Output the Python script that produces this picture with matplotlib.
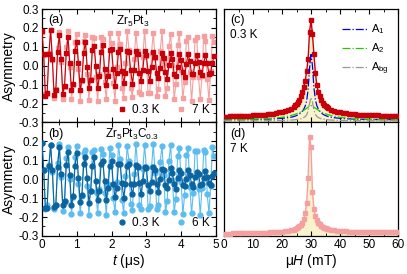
import matplotlib
matplotlib.use("Agg")
import matplotlib.pyplot as plt
from matplotlib.ticker import MultipleLocator

plt.rcParams['font.family'] = ['Liberation Sans', 'DejaVu Sans']
plt.rcParams['mathtext.fontset'] = 'custom'
plt.rcParams['mathtext.rm'] = 'Liberation Sans'
plt.rcParams['mathtext.it'] = 'Liberation Sans:italic'
plt.rcParams['axes.unicode_minus'] = False
plt.rcParams['font.size'] = 8

# time axis (us)
t = [0.00, 0.05, 0.10, 0.15, 0.20, 0.25, 0.30, 0.35, 0.40, 0.45,
     0.50, 0.55, 0.60, 0.65, 0.70, 0.75, 0.80, 0.85, 0.90, 0.95,
     1.00, 1.05, 1.10, 1.15, 1.20, 1.25, 1.30, 1.35, 1.40, 1.45,
     1.50, 1.55, 1.60, 1.65, 1.70, 1.75, 1.80, 1.85, 1.90, 1.95,
     2.00, 2.05, 2.10, 2.15, 2.20, 2.25, 2.30, 2.35, 2.40, 2.45,
     2.50, 2.55, 2.60, 2.65, 2.70, 2.75, 2.80, 2.85, 2.90, 2.95,
     3.00, 3.05, 3.10, 3.15, 3.20, 3.25, 3.30, 3.35, 3.40, 3.45,
     3.50, 3.55, 3.60, 3.65, 3.70, 3.75, 3.80, 3.85, 3.90, 3.95,
     4.00, 4.05, 4.10, 4.15, 4.20, 4.25, 4.30, 4.35, 4.40, 4.45,
     4.50, 4.55, 4.60, 4.65, 4.70, 4.75, 4.80, 4.85, 4.90, 4.95]

# Zr5Pt3, 0.3 K
a_low = [0.185, 0.062, -0.160, -0.143, 0.060, 0.190, 0.038, -0.157, -0.126, 0.075,
         0.162, 0.034, -0.147, -0.106, 0.067, 0.153, 0.012, -0.128, -0.099, 0.078,
         0.128, 0.013, -0.129, -0.075, 0.069, 0.127, -0.005, -0.115, -0.074, 0.081,
         0.107, -0.003, -0.120, -0.055, 0.072, 0.109, -0.019, -0.104, -0.056, 0.082,
         0.089, -0.015, -0.108, -0.037, 0.072, 0.090, -0.029, -0.093, -0.039, 0.080,
         0.072, -0.023, -0.096, -0.021, 0.078, 0.063, -0.036, -0.079, -0.024, 0.076,
         0.055, -0.028, -0.082, -0.008, 0.073, 0.048, -0.040, -0.067, -0.013, 0.069,
         0.040, -0.031, -0.070, 0.002, 0.066, 0.035, -0.042, -0.055, -0.004, 0.063,
         0.029, -0.032, -0.060, 0.009, 0.061, 0.023, -0.043, -0.045, 0.012, 0.058,
         0.019, -0.033, -0.051, 0.015, 0.056, 0.015, -0.043, -0.037, 0.017, 0.054]

# Zr5Pt3, 7 K
a_high = [0.178, 0.058, -0.150, -0.147, 0.068, 0.188, 0.030, -0.168, -0.125, 0.095,
          0.178, 0.020, -0.176, -0.110, 0.101, 0.182, -0.008, -0.174, -0.104, 0.126,
          0.166, -0.019, -0.186, -0.078, 0.131, 0.165, -0.046, -0.180, -0.070, 0.152,
          0.146, -0.057, -0.189, -0.042, 0.154, 0.142, -0.084, -0.178, -0.031, 0.172,
          0.120, -0.092, -0.184, -0.004, 0.171, 0.114, -0.116, -0.169, 0.016, 0.185,
          0.086, -0.119, -0.166, 0.034, 0.175, 0.078, -0.140, -0.148, 0.044, 0.186,
          0.052, -0.144, -0.146, 0.070, 0.175, 0.042, -0.162, -0.125, 0.079, 0.182,
          0.015, -0.162, -0.119, 0.104, 0.168, 0.005, -0.176, -0.096, 0.111, 0.171,
          -0.023, -0.173, -0.088, 0.133, 0.154, -0.033, -0.184, -0.062, 0.137, 0.153,
          -0.060, -0.176, -0.053, 0.156, 0.132, -0.069, -0.183, -0.026, 0.157, 0.128]

# Zr5Pt3C0.3, 0.3 K
b_low = [0.192, 0.051, -0.151, -0.153, 0.071, 0.180, 0.048, -0.148, -0.135, 0.066,
         0.172, 0.025, -0.139, -0.116, 0.077, 0.144, 0.022, -0.136, -0.090, 0.069,
         0.138, 0.004, -0.120, -0.085, 0.079, 0.118, 0.005, -0.124, -0.065, 0.071,
         0.115, -0.012, -0.109, -0.063, 0.080, 0.098, -0.009, -0.111, -0.045, 0.071,
         0.096, -0.023, -0.095, -0.045, 0.079, 0.078, -0.018, -0.098, -0.028, 0.068,
         0.078, -0.028, -0.080, -0.026, 0.075, 0.062, -0.022, -0.080, -0.011, 0.064,
         0.061, -0.031, -0.062, -0.014, 0.067, 0.046, -0.024, -0.066, 0.000, 0.056,
         0.046, -0.032, -0.048, -0.004, 0.059, 0.032, -0.024, -0.052, 0.008, 0.048,
         0.034, -0.030, -0.037, 0.002, 0.051, 0.021, -0.023, -0.040, 0.013, 0.040,
         0.025, -0.029, -0.026, 0.006, 0.044, 0.013, -0.020, -0.032, 0.016, 0.034]

# Zr5Pt3C0.3, 6 K
b_high = [0.190, 0.049, -0.158, -0.138, 0.076, 0.180, 0.040, -0.160, -0.135, 0.085,
          0.186, 0.012, -0.168, -0.120, 0.110, 0.172, 0.001, -0.182, -0.095, 0.117,
          0.174, -0.027, -0.178, -0.087, 0.139, 0.156, -0.037, -0.189, -0.060, 0.143,
          0.155, -0.066, -0.181, -0.050, 0.162, 0.133, -0.074, -0.187, -0.023, 0.163,
          0.129, -0.100, -0.175, -0.013, 0.179, 0.105, -0.108, -0.177, 0.017, 0.176,
          0.097, -0.131, -0.162, 0.026, 0.188, 0.071, -0.136, -0.160, 0.054, 0.181,
          0.062, -0.156, -0.141, 0.064, 0.188, 0.034, -0.158, -0.136, 0.090, 0.178,
          0.024, -0.175, -0.114, 0.098, 0.181, -0.004, -0.173, -0.106, 0.122, 0.167,
          -0.015, -0.186, -0.082, 0.128, 0.166, -0.042, -0.180, -0.072, 0.149, 0.148,
          -0.053, -0.189, -0.046, 0.152, 0.144, -0.079, -0.180, -0.035, 0.170, 0.123]

# field axis (mT)
B = [0, 1, 2, 3, 4, 5, 6, 7, 8, 9, 10, 11, 12, 13, 14, 15, 16, 17, 18, 19,
     20, 21, 22, 23, 24,
     24.5, 25, 25.5, 26, 26.5, 27, 27.5, 28, 28.5, 29, 29.5, 30, 30.5, 31,
     31.5, 32, 32.5, 33, 33.5, 34, 34.5, 35, 35.5,
     36, 37, 38, 39, 40, 41, 42, 43, 44, 45, 46, 47, 48, 49, 50, 51, 52, 53,
     54, 55, 56, 57, 58, 59, 60]

pb_low = [0.050, 0.052, 0.053, 0.054, 0.055, 0.056, 0.057, 0.058, 0.060, 0.061,
          0.063, 0.064, 0.066, 0.068, 0.070, 0.073, 0.076, 0.079, 0.083, 0.088,
          0.092, 0.099, 0.108, 0.122, 0.140,
          0.152, 0.165, 0.180, 0.200, 0.235, 0.270, 0.310, 0.370, 0.450, 0.560,
          0.800, 0.900, 0.780, 0.600, 0.440, 0.330, 0.270, 0.230, 0.200, 0.175,
          0.158, 0.145, 0.135,
          0.128, 0.113, 0.103, 0.095, 0.089, 0.084, 0.080, 0.077, 0.074, 0.072,
          0.070, 0.068, 0.067, 0.066, 0.065, 0.064, 0.063, 0.062, 0.061, 0.061,
          0.060, 0.060, 0.059, 0.059, 0.058]

pb_a1 = [0.024, 0.024, 0.024, 0.025, 0.025, 0.025, 0.025, 0.026, 0.026, 0.026,
         0.027, 0.027, 0.028, 0.028, 0.029, 0.030, 0.031, 0.032, 0.033, 0.035,
         0.037, 0.039, 0.042, 0.046, 0.052,
         0.056, 0.061, 0.067, 0.075, 0.085, 0.098, 0.117, 0.145, 0.190, 0.290,
         0.480, 0.600, 0.500, 0.310, 0.200, 0.150, 0.120, 0.100, 0.085, 0.075,
         0.067, 0.061, 0.056,
         0.052, 0.046, 0.042, 0.039, 0.037, 0.035, 0.033, 0.032, 0.031, 0.030,
         0.029, 0.028, 0.028, 0.027, 0.027, 0.026, 0.026, 0.026, 0.025, 0.025,
         0.025, 0.025, 0.024, 0.024, 0.024]

pb_a2 = [0.022, 0.022, 0.023, 0.023, 0.024, 0.024, 0.025, 0.025, 0.026, 0.027,
         0.028, 0.029, 0.030, 0.031, 0.032, 0.034, 0.036, 0.038, 0.040, 0.043,
         0.046, 0.050, 0.055, 0.061, 0.068,
         0.072, 0.077, 0.082, 0.087, 0.093, 0.100, 0.108, 0.116, 0.125, 0.135,
         0.145, 0.150, 0.145, 0.136, 0.126, 0.117, 0.108, 0.100, 0.093, 0.087,
         0.082, 0.077, 0.072,
         0.068, 0.061, 0.055, 0.050, 0.046, 0.043, 0.040, 0.038, 0.036, 0.034,
         0.032, 0.031, 0.030, 0.029, 0.028, 0.027, 0.026, 0.026, 0.025, 0.025,
         0.024, 0.024, 0.023, 0.023, 0.022]

pb_bg = [0.014, 0.014, 0.014, 0.014, 0.014, 0.014, 0.014, 0.015, 0.015, 0.015,
         0.015, 0.015, 0.015, 0.016, 0.016, 0.016, 0.016, 0.017, 0.017, 0.018,
         0.018, 0.019, 0.020, 0.021, 0.023,
         0.024, 0.026, 0.028, 0.030, 0.033, 0.037, 0.043, 0.052, 0.068, 0.100,
         0.170, 0.220, 0.180, 0.110, 0.072, 0.054, 0.044, 0.038, 0.033, 0.030,
         0.028, 0.026, 0.024,
         0.023, 0.021, 0.020, 0.019, 0.018, 0.018, 0.017, 0.017, 0.016, 0.016,
         0.016, 0.016, 0.015, 0.015, 0.015, 0.015, 0.015, 0.015, 0.014, 0.014,
         0.014, 0.014, 0.014, 0.014, 0.014]

pb_high = [0.020, 0.021, 0.021, 0.022, 0.022, 0.023, 0.023, 0.024, 0.024, 0.025,
           0.026, 0.026, 0.027, 0.028, 0.029, 0.030, 0.031, 0.032, 0.034, 0.036,
           0.038, 0.041, 0.045, 0.050, 0.056,
           0.061, 0.067, 0.075, 0.085, 0.098, 0.118, 0.150, 0.200, 0.290, 0.510,
           0.870, 0.780, 0.390, 0.240, 0.175, 0.140, 0.118, 0.102, 0.090, 0.081,
           0.074, 0.068, 0.063,
           0.059, 0.053, 0.049, 0.046, 0.043, 0.041, 0.039, 0.038, 0.037, 0.036,
           0.035, 0.035, 0.034, 0.034, 0.034, 0.033, 0.033, 0.033, 0.033, 0.032,
           0.032, 0.032, 0.032, 0.032, 0.032]

dark_red = '#c8000a'
pink = '#f5a0a0'
dark_blue = '#0b64a0'
light_blue = '#5cbcf0'
fill_col = '#f8f3cc'

fig = plt.figure(figsize=(4.07, 2.74), dpi=100)
ax_a = fig.add_axes([0.103, 0.553, 0.4275, 0.414])
ax_b = fig.add_axes([0.103, 0.139, 0.4275, 0.414])
ax_c = fig.add_axes([0.5504, 0.553, 0.4275, 0.414])
ax_d = fig.add_axes([0.5504, 0.139, 0.4275, 0.414])

ms = 3.2
# (a)
ax_a.plot(t, a_high, '-', color=pink, lw=0.8, zorder=1)
ax_a.plot(t, a_high, 's', color=pink, ms=ms, zorder=2, label='7 K')
ax_a.plot(t, a_low, '-', color=dark_red, lw=0.8, zorder=3)
ax_a.plot(t, a_low, 's', color=dark_red, ms=ms, zorder=4, label='0.3 K')
# (b)
ax_b.plot(t, b_high, '-', color=light_blue, lw=0.8, zorder=1)
ax_b.plot(t, b_high, 'o', color=light_blue, ms=ms + 0.3, zorder=2, label='6 K')
ax_b.plot(t, b_low, '-', color=dark_blue, lw=0.8, zorder=3)
ax_b.plot(t, b_low, 'o', color=dark_blue, ms=ms + 0.3, zorder=4, label='0.3 K')

for ax in (ax_a, ax_b):
    ax.set_xlim(0, 5)
    ax.set_ylim(-0.3, 0.3)
    ax.xaxis.set_major_locator(MultipleLocator(1))
    ax.xaxis.set_minor_locator(MultipleLocator(0.5))
    ax.set_yticks([-0.3, -0.2, -0.1, 0.0, 0.1, 0.2, 0.3])
    ax.yaxis.set_minor_locator(MultipleLocator(0.05))
    ax.set_ylabel('Asymmetry', fontsize=10, labelpad=2)
    h, l = ax.get_legend_handles_labels()
    ax.legend([h[1], h[0]], [l[1], l[0]], loc='lower right', ncol=2,
              frameon=False, handlelength=0.8, handletextpad=0.5,
              columnspacing=1.4, borderaxespad=0.15, fontsize=8.5)

ax_a.set_yticklabels(['-0.3', '-0.2', '-0.1', '0.0', '0.1', '0.2', '0.3'])
ax_b.set_yticklabels(['-0.3', '-0.2', '-0.1', '0.0', '0.1', '0.2', ''])
ax_a.tick_params(labelbottom=False)
ax_b.set_xlabel('$t$ (\u03bcs)', fontsize=10, labelpad=1)

ax_a.text(0.035, 0.955, '(a)', transform=ax_a.transAxes, va='top', fontsize=9)
ax_b.text(0.035, 0.955, '(b)', transform=ax_b.transAxes, va='top', fontsize=9)
ax_a.text(0.52, 0.96, 'Zr$_5$Pt$_3$', transform=ax_a.transAxes, va='top',
          ha='center', fontsize=8.5)
ax_b.text(0.52, 0.96, 'Zr$_5$Pt$_3$C$_{0.3}$', transform=ax_b.transAxes,
          va='top', ha='center', fontsize=8.5)

# (c)
ax_c.fill_between(B, 0, pb_low, color=fill_col, lw=0, zorder=0)
ax_c.plot(B, pb_low, '-', color=dark_red, lw=1.0, zorder=3)
ax_c.plot(B, pb_low, 's', color=dark_red, ms=ms, zorder=4)
ax_c.plot(B, pb_a1, color='#0000e6', ls='-.', lw=0.9, zorder=5, label='A$_1$')
ax_c.plot(B, pb_a2, color='#22cc00', ls='-.', lw=0.9, zorder=5, label='A$_2$')
ax_c.plot(B, pb_bg, color='#999999', ls='-.', lw=0.9, zorder=5,
          label='A$_{\\mathrm{bg}}$')
ax_c.legend(loc='upper left', bbox_to_anchor=(0.68, 0.88), frameon=False,
            handlelength=2.2, handletextpad=0.4, borderaxespad=0, borderpad=0,
            labelspacing=0.45, fontsize=8)
ax_c.text(0.035, 0.955, '(c)', transform=ax_c.transAxes, va='top', fontsize=9)
ax_c.text(0.035, 0.82, '0.3 K', transform=ax_c.transAxes, va='top', fontsize=8.5)

# (d)
ax_d.fill_between(B, 0, pb_high, color=fill_col, lw=0, zorder=0)
ax_d.plot(B, pb_high, '-', color=pink, lw=1.0, zorder=3)
ax_d.plot(B, pb_high, 's', color=pink, ms=ms, zorder=4)
ax_d.text(0.035, 0.955, '(d)', transform=ax_d.transAxes, va='top', fontsize=9)
ax_d.text(0.035, 0.82, '7 K', transform=ax_d.transAxes, va='top', fontsize=8.5)
ax_d.set_xlabel('\u03bc$H$ (mT)', fontsize=10, labelpad=1)

for ax in (ax_c, ax_d):
    ax.set_xlim(0, 60)
    ax.set_ylim(0, 1.0)
    ax.xaxis.set_major_locator(MultipleLocator(10))
    ax.xaxis.set_minor_locator(MultipleLocator(5))
    ax.set_yticks([])
ax_c.tick_params(labelbottom=False)

for ax in (ax_a, ax_b, ax_c, ax_d):
    ax.tick_params(which='both', direction='in', top=True, right=True,
                   labelsize=8.5, pad=2)
    ax.tick_params(which='major', length=3.5, width=0.8)
    ax.tick_params(which='minor', length=2, width=0.6)
    for s in ax.spines.values():
        s.set_linewidth(0.9)

fig.savefig('out.png', dpi=100)
